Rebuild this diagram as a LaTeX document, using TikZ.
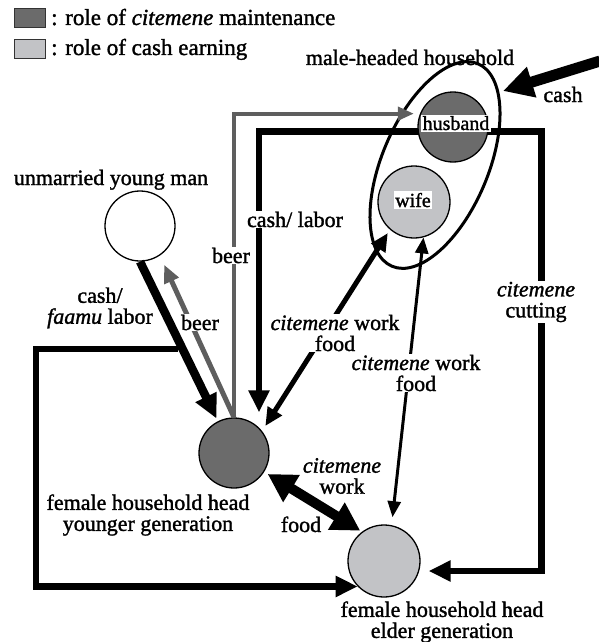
\documentclass[tikz,border=0pt]{standalone}
\usepackage{fontspec}
\setmainfont{Liberation Serif}[FakeBold=1.4]
\usetikzlibrary{arrows.meta,calc}
\definecolor{darkfill}{HTML}{6B6B6B}
\definecolor{lightfill}{HTML}{C2C3C6}
\definecolor{beergray}{HTML}{5E5E5E}
\begin{document}
\begin{tikzpicture}[x=1pt,y=-1pt,
  font=\fontsize{22}{21}\selectfont,
  role/.style={circle, draw=black, line width=1.3pt, minimum size=70pt, inner sep=0pt},
  lbl/.style={inner sep=1pt, align=center},
  brk/.style={lbl, fill=white},
  inlbl/.style={fill=white, inner sep=1.5pt, font=\fontsize{20}{20}\selectfont},
  legbox/.style={draw=black!80, line width=1pt, minimum width=31pt, minimum height=19pt, inner sep=0pt, anchor=north west},
  legtext/.style={anchor=base west, inner sep=0pt, font=\fontsize{23}{21}\selectfont},
  thickarr/.style={line width=6.5pt, -{Triangle[length=22pt,width=20pt]}},
  beerarr/.style={draw=beergray, line width=4pt, -{Triangle[length=16pt,width=13pt]}},
]
\useasboundingbox (0,0) rectangle (598,642);

% legend
\node[legbox, fill=darkfill] (legd) at (14,8) {};
\node[legbox, fill=lightfill] (legl) at (14,39) {};
\node[legtext] (legdt) at (51,25) {: role of \textit{citemene} maintenance};
\node[legtext] (leglt) at (51,55) {: role of cash earning};

% household ellipse
\draw[line width=3pt, rotate around={-23:(435,165)}] (435,165) ellipse [x radius=53, y radius=110];

% role circles
\node[role, fill=darkfill] (husband) at (453,127) {};
\node[role, fill=lightfill, minimum size=72pt] (wife) at (414,202) {};
\node[role, fill=white] (young) at (140,226) {};
\node[role, fill=darkfill] (younger) at (234,453) {};
\node[role, fill=lightfill, minimum size=72pt] (elder) at (384,561) {};

% cash into household
\coordinate (cashtail) at (600,61);
\coordinate (cashtip) at (503,91);
\draw[line width=11pt, -{Triangle[length=30pt,width=30pt]}] (cashtail) -- (cashtip);

% beer: younger -> husband (gray)
\draw[beerarr] (younger.north) |- ([xshift=-6pt]husband.158);

% cash/labor: husband -> younger
\draw[thickarr] (husband.187) -| ([xshift=25pt,yshift=5pt]younger.north);

% citemene cutting: husband -> elder
\draw[thickarr] (husband.-7) -- ++(53,0) |- ([xshift=8pt,yshift=-10pt]elder.east);

% cash/faamu labor: young man -> younger
\draw[line width=8.5pt, -{Triangle[length=24pt,width=22pt]}, shorten >=3pt] (young.south) -- (younger.117);

% loop from faamu arrow to elder
\coordinate (loopS) at (178,349);
\draw[thickarr] (loopS) -- ++(-142,0) |- (elder.224);

% beer: younger -> young man
\draw[draw=beergray, line width=5pt, -{Triangle[length=18pt,width=15pt]}, shorten >=10pt] (younger.north) -- (young.-56);

% citemene work/food: wife <-> younger
\draw[line width=5pt, {Triangle[length=18pt,width=16pt]}-{Triangle[length=18pt,width=16pt]}, shorten <=4pt, shorten >=6pt] (wife.229) -- (younger.38);

% citemene work/food: wife <-> elder
\draw[line width=3pt, {Triangle[length=16pt,width=13pt]}-{Triangle[length=16pt,width=13pt]}, shorten >=8pt] (wife.-75) -- (elder.78);

% younger <-> elder
\draw[line width=10pt, {Triangle[length=28pt,width=30pt]}-{Triangle[length=28pt,width=30pt]}, shorten <=4pt, shorten >=2pt] (younger.-32) -- (elder.127);

% labels
\node[lbl, anchor=base] (lmale) at (410,65) {male-headed household};
\node[lbl, anchor=base] (lcash) at (563,102) {cash};
\node[lbl, anchor=base] (lyoung) at (111,185) {unmarried young man};
\node[lbl] (lfaamu) at (100,308) {cash/\\\textit{faamu} labor};
\node[brk, anchor=base] (lbeer1) at (200,330) {beer};
\node[brk, anchor=base] (lbeer2) at (231,263) {beer};
\node[brk, anchor=base] (lcashlab) at (295,227) {cash/ labor};
\node[brk] (lcw1) at (335,333) {\textit{citemene} work\\food};
\node[brk] (lcw2) at (416,373) {\textit{citemene} work\\food};
\node[brk] (lcut) at (536,302) {\textit{citemene}\\cutting};
\node[lbl] (lcw3) at (342,476) {\textit{citemene}\\work};
\node[lbl, anchor=base] (lfood) at (301,532) {food};
\node[lbl] (lyounger) at (148,515) {female household head\\younger generation};
\node[lbl] (lelder) at (442,622) {female household head\\elder generation};

% inner labels
\node[inlbl, anchor=base] (thusband) at (456,130) {husband};
\node[inlbl, anchor=base] (twife) at (413,207) {wife};
\end{tikzpicture}
\end{document}
